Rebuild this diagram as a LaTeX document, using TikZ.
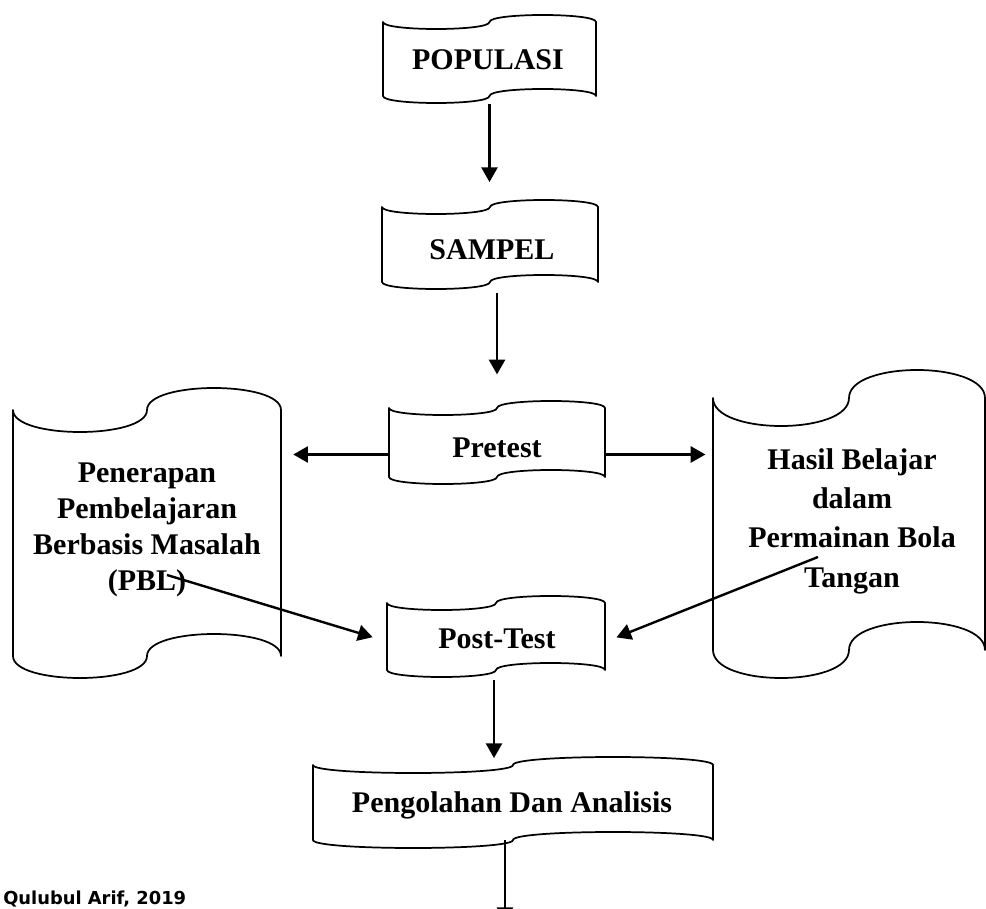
\documentclass[tikz,border=0pt]{standalone}
\usepackage{fontspec}
\setmainfont{Liberation Serif}
\newfontfamily\srcfont{DejaVu Sans}
\usetikzlibrary{arrows.meta,calc}
\tikzset{
  tapeline/.style={line width=1.3pt, line join=round},
  arr/.style={line width=1.8pt, -{Triangle[length=11pt,width=12pt]}},
  lbl/.style={font=\bfseries\fontsize{22.5}{27}\selectfont, inner sep=0pt, anchor=base, align=center},
  lblwide/.style={font=\bfseries\fontsize{22.5}{29.5}\selectfont, inner sep=0pt, anchor=base, align=center},
  shapebox/.style={inner sep=0pt, draw=none}
}
\newcommand\tape[6]{%
  \pgfmathsetmacro\xm{(#2+#3)/2}%
  \pgfmathsetmacro\ym{(#4+#5)/2}%
  \pgfmathsetmacro\ww{(#3-#2)*0.75}%
  \pgfmathsetmacro\hh{(#5-#4)*0.75}%
  \pgfmathsetmacro\ta{#4+4*#6/3}%
  \pgfmathsetmacro\tb{#4-4*#6/3}%
  \pgfmathsetmacro\ba{#5-4*#6/3}%
  \pgfmathsetmacro\bb{#5+4*#6/3}%
  \node[shapebox, minimum width=\ww pt, minimum height=\hh pt] (#1) at (\xm,\ym) {};
  \draw[tapeline] (#2,#4) .. controls (#2,\ta) and (\xm,\ta) .. (\xm,#4)
     .. controls (\xm,\tb) and (#3,\tb) .. (#3,#4) -- (#3,#5)
     .. controls (#3,\ba) and (\xm,\ba) .. (\xm,#5)
     .. controls (\xm,\bb) and (#2,\bb) .. (#2,#5) -- cycle;
}
\begin{document}
\begin{tikzpicture}[x=0.75pt,y=-0.75pt]
\useasboundingbox (0,0) rectangle (986,909);
\clip (0,0) rectangle (986,909);
\fill[white] (0,0) rectangle (986,909);

% shapes
\tape{pop}{383}{596}{22}{96}{7}
\tape{sam}{382}{598}{207}{282}{7}
\tape{pre}{389}{605}{408}{477}{7}
\tape{post}{387}{605}{603}{670}{7}
\tape{peng}{313}{713}{765}{840}{8}
\tape{pbl}{13}{281}{410}{656}{22}
\tape{hbl}{713}{985}{398}{650}{28}

% texts
\node[lbl] (popt) at (488,70) {POPULASI};
\node[lbl] (samt) at (492,260) {SAMPEL};
\node[lbl] (pret) at (497,457) {Pretest};
\node[lbl] (postt) at (497,648) {Post-Test};
\node[lbl] (pengt) at (512,812) {Pengolahan Dan Analisis};
\node[lbl] (pblt) at (147,590) {Penerapan\\Pembelajaran\\Berbasis Masalah\\(PBL)};
\node[lblwide] (hblt) at (852,587) {Hasil Belajar\\dalam\\Permainan Bola\\Tangan};
\node[font=\srcfont\bfseries\fontsize{13.4}{16}\selectfont, inner sep=0pt, anchor=base west] (src) at (3,904) {Qulubul Arif, 2019};

% connectors
\coordinate (pblfrom) at (167,575);
\coordinate (hblfrom) at (818,557);
\coordinate (out) at (505,922);
\draw[arr, shorten <=6pt, shorten >=18.5pt] (pop.south) -- (pop.south |- sam.north);
\draw[arr, shorten <=8pt, shorten >=25pt] (sam.south -| pre.north) -- (pre.north);
\draw[arr, shorten >=9pt] ([yshift=-9pt]pre.west) -- ([yshift=-9pt]pre.west -| pbl.east);
\draw[arr, shorten >=5.5pt] ([yshift=-9pt]pre.east) -- ([yshift=-9pt]pre.east -| hbl.west);
\draw[arr, shorten >=11pt] (pblfrom) -- ([yshift=-3.7pt]post.west);
\draw[arr, shorten >=9pt] (hblfrom) -- ([yshift=-4pt]post.east);
\draw[arr, shorten <=7.5pt, shorten >=5pt] ([xshift=-1.5pt]post.south) -- ([xshift=-1.5pt]post.south |- peng.north);
\draw[arr] (peng.south -| out) -- (out);
\end{tikzpicture}
\end{document}
